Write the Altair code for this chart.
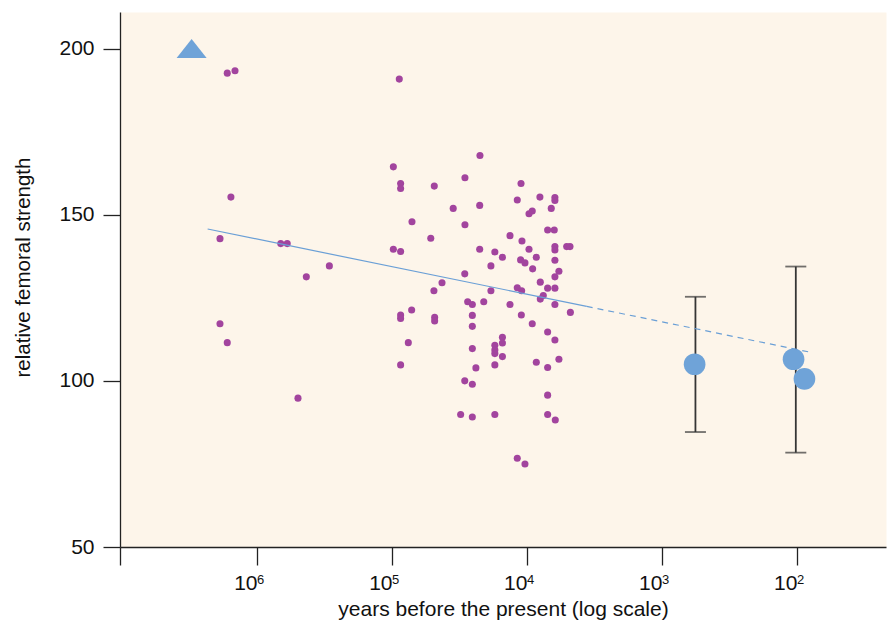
import altair as alt
import pandas as pd

# ---- data ----
# fossil / early-human samples (purple dots): years before present, relative femoral strength
fossil_years = [
    1660000, 1455000, 88300, 1560000, 1880000, 667000, 597000, 291000, 431000,
    1880000, 1660000, 497000,
    97700, 22300, 86300, 86300, 48600, 28800, 11070, 11800, 8020, 6210, 6210,
    35200, 22400, 9660, 9140, 6610, 71100, 28800, 7030, 6280, 51600, 13360,
    10890, 97700, 86300, 22400, 17300, 15200, 9660, 8530, 6210, 6210, 5080,
    4800, 11150, 10350, 6210, 18500, 9080, 5800, 6210, 28900, 42600, 48900,
    18500, 11800, 10950, 7970, 7030, 6210, 7570, 7970, 27500, 25400, 20900,
    13360, 6210, 4770, 71500, 86300, 86300, 48300, 48300, 25400, 11010, 9140,
    25400, 7030, 6210, 75700, 25400, 15200, 15200, 17300, 17300, 17300, 15200,
    86300, 23900, 17300, 8530, 7030, 5800, 28900, 25400, 7030, 31000, 25400,
    17300, 7030, 6170, 11800, 10350,
]
fossil_strength = [
    192.6, 193.3, 190.8, 155.3, 142.8, 141.3, 141.3, 134.6, 131.3,
    117.2, 111.5, 94.8,
    164.4, 167.8, 159.4, 157.9, 158.6, 161.1, 159.4, 154.4, 155.3, 155.2, 154.3,
    151.9, 152.8, 150.3, 151.1, 151.9, 147.9, 147.0, 145.4, 145.4, 142.9, 143.7,
    142.1, 139.6, 138.9, 139.6, 138.8, 137.2, 139.6, 137.2, 140.4, 139.4, 140.4,
    140.4, 136.4, 135.5, 136.3, 134.6, 133.7, 133.0, 131.3, 132.2, 129.5, 127.1,
    127.1, 128.0, 127.1, 129.7, 127.9, 127.9, 125.7, 124.6, 123.8, 123.0, 123.8,
    123.0, 123.0, 120.6, 121.3, 119.8, 118.8, 119.1, 118.0, 119.7, 119.8, 117.2,
    116.4, 114.7, 112.3, 111.5, 109.7, 113.1, 111.4, 110.7, 109.3, 108.2, 107.3,
    104.8, 103.9, 104.8, 105.6, 104.0, 106.5, 100.0, 99.0, 95.7, 89.9, 89.1,
    89.9, 89.9, 88.2, 76.7, 75.0,
]

# recent populations (blue circles)
recent_years = [573, 106, 88]
recent_strength = [105.0, 106.5, 100.6]

# error bars of recent populations
err_years = [565, 102]
err_low = [84.6, 78.4]
err_high = [125.3, 134.4]

# reference point (blue triangle)
tri_years = [3050000]
tri_strength = [200.0]

# trend line: fitted part (solid) and extrapolation (dashed)
fit_years = [2320000, 3610]
fit_strength = [145.7, 122.4]
ext_years = [3610, 77]
ext_strength = [122.4, 108.5]

# axis
x_tick_years = [1e6, 1e5, 1e4, 1e3, 1e2]
x_tick_base = "10"
x_tick_exponents = ["6", "5", "4", "3", "2"]
y_ticks = [50, 100, 150, 200]
x_domain = [21.9, 10347000]
y_domain = [50, 211]

# ---- styles ----
PURPLE = "#A2449E"
BLUE = "#6FA3D8"
LINE_BLUE = "#6A9FD6"
BG = "#FDF5EA"
AXIS = "#222222"
ERR = "#353535"
TXT = "#111111"
FONT = "Liberation Sans"

fossils = pd.DataFrame({"years": fossil_years, "strength": fossil_strength})
recent = pd.DataFrame({"years": recent_years, "strength": recent_strength})
errs = pd.DataFrame({"years": err_years, "lo": err_low, "hi": err_high})
tri = pd.DataFrame({"years": tri_years, "strength": tri_strength})
fit = pd.DataFrame({"years": fit_years, "strength": fit_strength})
ext = pd.DataFrame({"years": ext_years, "strength": ext_strength})
exps = pd.DataFrame({"years": x_tick_years, "exp": x_tick_exponents})

label_expr = f"datum.value > {x_domain[1] * 0.9} ? '' : '{x_tick_base}'"

xscale = alt.Scale(type="log", domain=x_domain, reverse=True, nice=False)
yscale = alt.Scale(domain=y_domain, nice=False, zero=False)

xaxis = alt.Axis(
    values=[x_domain[1]] + x_tick_years,
    labelExpr=label_expr,
    title="years before the present (log scale)",
    grid=False,
    tickSize=18,
    labelPadding=24,
    labelBaseline="alphabetic",
    labelAlign="right",
    labelFontSize=21,
    labelFont=FONT,
    labelColor=TXT,
    titleFont=FONT,
    titleFontSize=21,
    titleFontWeight="normal",
    titleColor=TXT,
    titleBaseline="alphabetic",
    titleY=68,
    domainColor=AXIS,
    tickColor=AXIS,
    domainWidth=1.3,
    tickWidth=1.3,
)
yaxis = alt.Axis(
    values=y_ticks,
    title="relative femoral strength",
    grid=False,
    tickSize=17,
    labelPadding=9,
    labelFontSize=21,
    labelFont=FONT,
    labelColor=TXT,
    titleFont=FONT,
    titleFontSize=20.5,
    titleFontWeight="normal",
    titleColor=TXT,
    titlePadding=25,
    titleY=255,
    domainColor=AXIS,
    tickColor=AXIS,
    domainWidth=1.3,
    tickWidth=1.3,
)

X = alt.X("years:Q", scale=xscale, axis=xaxis)
Y = alt.Y("strength:Q", scale=yscale, axis=yaxis)

pts = alt.Chart(fossils).mark_circle(size=50, color=PURPLE, opacity=1).encode(x=X, y=Y)

fit_line = alt.Chart(fit).mark_line(color=LINE_BLUE, strokeWidth=1.2).encode(x=X, y=Y)
ext_line = alt.Chart(ext).mark_line(color=LINE_BLUE, strokeWidth=1.2, strokeDash=[6, 5]).encode(x=X, y=Y)

err_rule = alt.Chart(errs).mark_rule(color=ERR, strokeWidth=1.8).encode(
    x=alt.X("years:Q", scale=xscale, axis=xaxis),
    y=alt.Y("lo:Q", scale=yscale, axis=yaxis),
    y2="hi:Q",
)
cap_lo = alt.Chart(errs).mark_tick(color=ERR, orient="horizontal", size=21, thickness=1.8).encode(
    x=alt.X("years:Q", scale=xscale, axis=xaxis),
    y=alt.Y("lo:Q", scale=yscale, axis=yaxis),
)
cap_hi = alt.Chart(errs).mark_tick(color=ERR, orient="horizontal", size=21, thickness=1.8).encode(
    x=alt.X("years:Q", scale=xscale, axis=xaxis),
    y=alt.Y("hi:Q", scale=yscale, axis=yaxis),
)

circles = alt.Chart(recent).mark_circle(size=470, color=BLUE, opacity=1).encode(x=X, y=Y)

triangle = alt.Chart(tri).mark_point(
    shape="M-1,0.63L1,0.63L0,-0.63Z", size=900, filled=True, color=BLUE, opacity=1
).encode(x=X, y=Y)

# superscript exponents of the x tick labels
sup = alt.Chart(exps).mark_text(
    font=FONT, fontSize=13, color=TXT, align="left", baseline="alphabetic", dx=0
).encode(
    x=alt.X("years:Q", scale=xscale, axis=xaxis),
    y=alt.value(572),
    text="exp:N",
)

chart = alt.layer(
    pts, fit_line, err_rule, cap_lo, cap_hi, circles, ext_line, triangle, sup
).properties(
    width=766,
    height=535,
    autosize=alt.AutoSizeParams(type="none"),
    padding={"left": 120, "top": 12, "right": 1, "bottom": 76},
    background="white",
).configure_view(
    fill=BG, stroke="transparent"
)

chart.save("out.html", embed_options={"renderer": "svg", "actions": False})
